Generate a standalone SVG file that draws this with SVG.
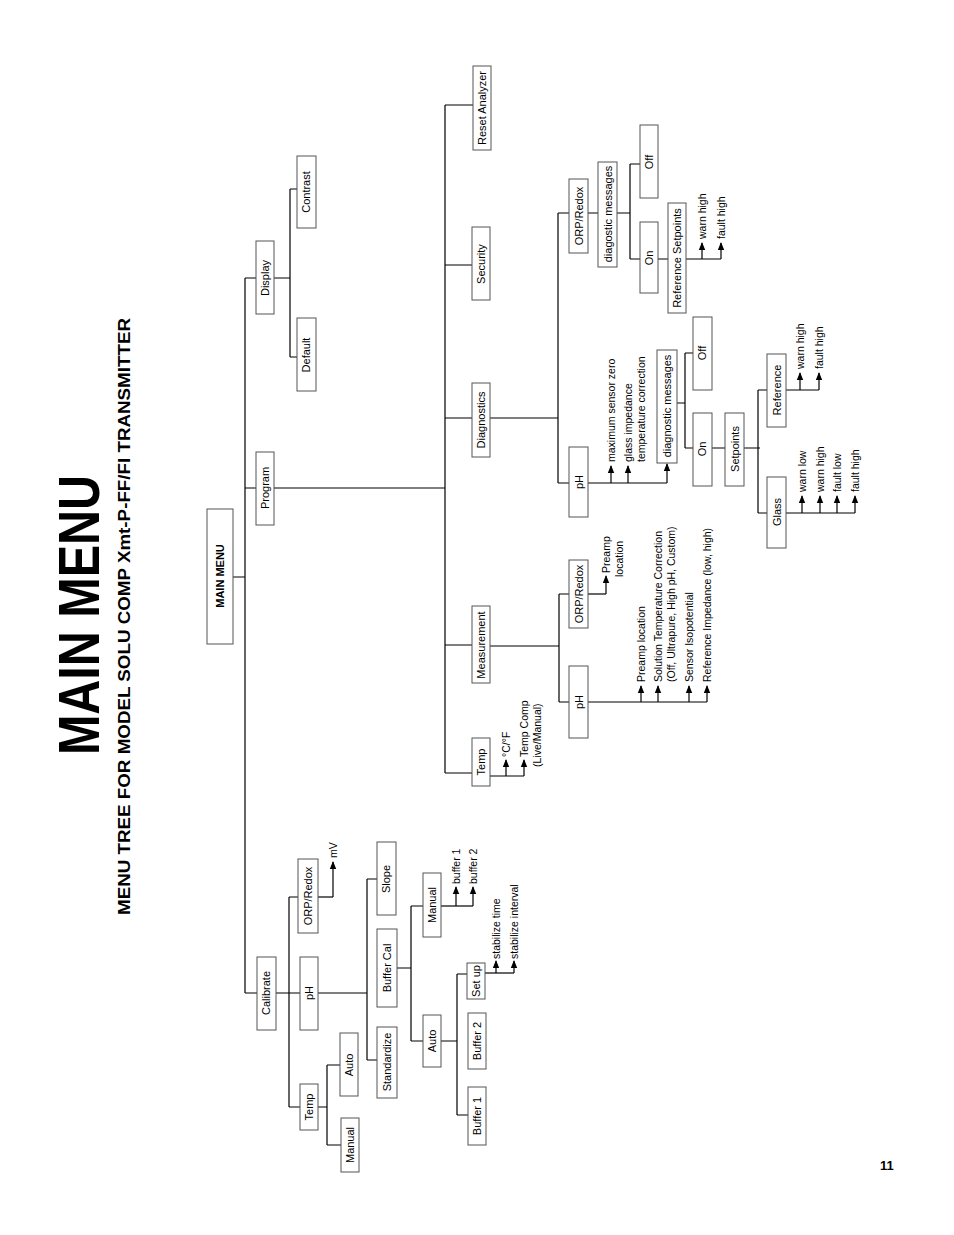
<svg xmlns="http://www.w3.org/2000/svg" width="954" height="1235" viewBox="0 0 954 1235">
<defs>
<style>
rect{fill:#fff;stroke:#555;stroke-width:1}
.b text,text.l{font-family:"Liberation Sans",Arial,sans-serif;font-size:11px;text-anchor:middle;fill:#000}
text.a{font-family:"Liberation Sans",Arial,sans-serif;font-size:10.5px;fill:#000}
#conn path{fill:none;stroke:#000;stroke-width:1.2}
#conn path.ar{marker-end:url(#ah)}
</style>
<marker id="ah" viewBox="0 0 8 8" refX="7" refY="4" markerWidth="8" markerHeight="8" markerUnits="userSpaceOnUse" orient="auto"><path d="M0,0.8 L8,4 L0,7.2 Z" fill="#000"/></marker>
</defs>
<rect x="0" y="0" width="954" height="1235" style="fill:#fff;stroke:none"/>
<text transform="translate(99,755) rotate(-90)" font-family="Liberation Sans,Arial,sans-serif" font-weight="bold" font-size="58" textLength="280" lengthAdjust="spacingAndGlyphs">MAIN MENU</text>
<text transform="translate(130,915) rotate(-90)" font-family="Liberation Sans,Arial,sans-serif" font-weight="bold" font-size="16.5" textLength="597" lengthAdjust="spacingAndGlyphs">MENU TREE FOR MODEL SOLU COMP Xmt-P-FF/FI TRANSMITTER</text>
<text x="880" y="1170" font-family="Liberation Sans,Arial,sans-serif" font-weight="bold" font-size="13">11</text>

<g id="conn">
<path d="M233,577H245M245,278V993M245,278H256M245,488H445M445,105V773M445,105H473M445,265H472M445,418H472M445,645H472M445,773H472"/>
<path d="M274,278H290M290,189V357M290,189H297M290,357H297"/>
<path d="M245,993H300M276,993H289M289,897V1107M289,897H298M289,1107H300"/>
<path d="M318,897H333"/><path class="ar" d="M333,897V862"/>
<path d="M318,993H367M367,879V1060M367,879H377M367,1060H377M397,968H411M411,906V1041M411,906H423M411,1041H423"/>
<path d="M441,906H473"/><path class="ar" d="M456,906V887"/><path class="ar" d="M473,906V887"/>
<path d="M441,1041H457M457,974V1115M457,974H467M457,1115H468"/>
<path d="M485,973H514"/><path class="ar" d="M496,973V961"/><path class="ar" d="M514,973V961"/>
<path d="M318,1107H327M327,1065V1145M327,1065H340M327,1145H341"/>
<path d="M490,776H524"/><path class="ar" d="M506,776V760"/><path class="ar" d="M524,776V760"/>
<path d="M490,646H559M559,594V702M559,594H569M559,702H569"/>
<path d="M588,594H606"/><path class="ar" d="M606,594V576"/>
<path d="M588,702H707"/><path class="ar" d="M641,702V686"/><path class="ar" d="M658,702V686"/><path class="ar" d="M689,702V686"/><path class="ar" d="M707,702V686"/>
<path d="M490,418H558M558,213V483M558,213H569M558,483H569"/>
<path d="M588,213H598M617,213H630M630,164V259M630,164H640M630,259H640M658,259H668M686,259H721"/>
<path class="ar" d="M702,259V243"/><path class="ar" d="M721,259V243"/>
<path d="M588,483H667"/><path class="ar" d="M611,483V466"/><path class="ar" d="M628,483V466"/><path class="ar" d="M667,483V464"/>
<path d="M677,403H685M685,353V448M685,353H693M685,448H693M712,448H725M744,448H760M758,390V513M758,390H767M758,513H767"/>
<path d="M786,390H819"/><path class="ar" d="M800,390V373"/><path class="ar" d="M819,390V373"/>
<path d="M786,513H855"/><path class="ar" d="M802,513V496"/><path class="ar" d="M820,513V496"/><path class="ar" d="M837,513V496"/><path class="ar" d="M855,513V496"/>
</g>

<g id="main-menu" class="b"><rect x="207" y="509" width="26" height="135"/><text transform="translate(224,576) rotate(-90)" font-weight="bold" font-size="11">MAIN MENU</text></g>
<g id="program" class="b"><rect x="256" y="452" width="18" height="73"/><text transform="translate(269,488) rotate(-90)">Program</text></g>
<g id="display" class="b"><rect x="256" y="241" width="18" height="73"/><text transform="translate(269,278) rotate(-90)">Display</text></g>
<g id="contrast" class="b"><rect x="297" y="156" width="19" height="72"/><text transform="translate(310,192) rotate(-90)">Contrast</text></g>
<g id="default" class="b"><rect x="297" y="318" width="19" height="73"/><text transform="translate(310,355) rotate(-90)">Default</text></g>
<g id="reset" class="b"><rect x="473" y="66" width="18" height="84"/><text transform="translate(486,108) rotate(-90)">Reset Analyzer</text></g>
<g id="security" class="b"><rect x="472" y="227" width="18" height="73"/><text transform="translate(485,264) rotate(-90)">Security</text></g>
<g id="diagnostics" class="b"><rect x="472" y="383" width="18" height="74"/><text transform="translate(485,420) rotate(-90)">Diagnostics</text></g>
<g id="measurement" class="b"><rect x="472" y="606" width="18" height="77"/><text transform="translate(485,645) rotate(-90)">Measurement</text></g>
<g id="temp-p" class="b"><rect x="472" y="738" width="18" height="48"/><text transform="translate(485,762) rotate(-90)">Temp</text></g>

<g id="calibrate" class="b"><rect x="257" y="957" width="19" height="73"/><text transform="translate(270,993) rotate(-90)">Calibrate</text></g>
<g id="cal-orp" class="b"><rect x="298" y="859" width="20" height="74"/><text transform="translate(312,896) rotate(-90)">ORP/Redox</text></g>
<g id="cal-ph" class="b"><rect x="300" y="957" width="18" height="73"/><text transform="translate(313,993) rotate(-90)">pH</text></g>
<g id="cal-temp" class="b"><rect x="300" y="1084" width="18" height="46"/><text transform="translate(313,1107) rotate(-90)">Temp</text></g>
<g id="cal-auto" class="b"><rect x="340" y="1033" width="18" height="63"/><text transform="translate(353,1065) rotate(-90)">Auto</text></g>
<g id="cal-manual" class="b"><rect x="341" y="1118" width="18" height="54"/><text transform="translate(354,1145) rotate(-90)">Manual</text></g>
<g id="slope" class="b"><rect x="377" y="842" width="19" height="73"/><text transform="translate(390,879) rotate(-90)">Slope</text></g>
<g id="buffer-cal" class="b"><rect x="377" y="929" width="20" height="78"/><text transform="translate(391,968) rotate(-90)">Buffer Cal</text></g>
<g id="standardize" class="b"><rect x="377" y="1027" width="20" height="71"/><text transform="translate(391,1062) rotate(-90)">Standardize</text></g>
<g id="bc-manual" class="b"><rect x="423" y="873" width="18" height="64"/><text transform="translate(436,905) rotate(-90)">Manual</text></g>
<g id="bc-auto" class="b"><rect x="423" y="1015" width="18" height="52"/><text transform="translate(436,1041) rotate(-90)">Auto</text></g>
<g id="setup" class="b"><rect x="467" y="963" width="18" height="36"/><text transform="translate(480,981) rotate(-90)" font-size="10.5">Set up</text></g>
<g id="buffer2" class="b"><rect x="468" y="1013" width="18" height="56"/><text transform="translate(481,1041) rotate(-90)">Buffer 2</text></g>
<g id="buffer1" class="b"><rect x="468" y="1087" width="18" height="58"/><text transform="translate(481,1116) rotate(-90)">Buffer 1</text></g>

<g id="meas-orp" class="b"><rect x="569" y="560" width="19" height="68"/><text transform="translate(583,594) rotate(-90)">ORP/Redox</text></g>
<g id="meas-ph" class="b"><rect x="569" y="666" width="19" height="72"/><text transform="translate(583,702) rotate(-90)">pH</text></g>
<g id="diag-orp" class="b"><rect x="569" y="179" width="19" height="74"/><text transform="translate(583,216) rotate(-90)">ORP/Redox</text></g>
<g id="diag-ph" class="b"><rect x="569" y="447" width="19" height="70"/><text transform="translate(583,482) rotate(-90)">pH</text></g>
<g id="orp-diagmsg" class="b"><rect x="598" y="162" width="19" height="105"/><text transform="translate(612,214) rotate(-90)">diagostic messages</text></g>
<g id="orp-off" class="b"><rect x="640" y="125" width="18" height="73"/><text transform="translate(653,162) rotate(-90)">Off</text></g>
<g id="orp-on" class="b"><rect x="640" y="222" width="18" height="71"/><text transform="translate(653,258) rotate(-90)">On</text></g>
<g id="ref-setpoints" class="b"><rect x="668" y="203" width="18" height="110"/><text transform="translate(681,258) rotate(-90)">Reference Setpoints</text></g>
<g id="ph-diagmsg" class="b"><rect x="657" y="350" width="20" height="113"/><text transform="translate(671,406) rotate(-90)">diagnostic messages</text></g>
<g id="ph-off" class="b"><rect x="693" y="317" width="19" height="73"/><text transform="translate(706,353) rotate(-90)">Off</text></g>
<g id="ph-on" class="b"><rect x="693" y="413" width="19" height="73"/><text transform="translate(706,449) rotate(-90)">On</text></g>
<g id="setpoints" class="b"><rect x="725" y="413" width="19" height="73"/><text transform="translate(739,449) rotate(-90)">Setpoints</text></g>
<g id="reference" class="b"><rect x="767" y="354" width="19" height="73"/><text transform="translate(781,390) rotate(-90)">Reference</text></g>
<g id="glass" class="b"><rect x="767" y="477" width="19" height="71"/><text transform="translate(781,512) rotate(-90)">Glass</text></g>

<g id="labels">
<text class="a" transform="translate(337,858) rotate(-90)">mV</text>
<text class="a" transform="translate(460,884) rotate(-90)">buffer 1</text>
<text class="a" transform="translate(477,884) rotate(-90)">buffer 2</text>
<text class="a" transform="translate(500,959) rotate(-90)">stabilize time</text>
<text class="a" transform="translate(518,959) rotate(-90)">stabilize interval</text>
<text class="a" transform="translate(510,757) rotate(-90)">°C/°F</text>
<text class="a" transform="translate(528,757) rotate(-90)">Temp Comp</text>
<text class="a" transform="translate(541,767) rotate(-90)">(Live/Manual)</text>
<text class="a" transform="translate(610,573) rotate(-90)">Preamp</text>
<text class="a" transform="translate(623,577) rotate(-90)">location</text>
<text class="a" transform="translate(645,682) rotate(-90)">Preamp location</text>
<text class="a" transform="translate(662,682) rotate(-90)">Solution Temperature Correction</text>
<text class="a" transform="translate(675,682) rotate(-90)">(Off, Ultrapure, High pH, Custom)</text>
<text class="a" transform="translate(693,682) rotate(-90)">Sensor Isopotential</text>
<text class="a" transform="translate(711,682) rotate(-90)">Reference Impedance (low, high)</text>
<text class="a" transform="translate(615,462) rotate(-90)">maximum sensor zero</text>
<text class="a" transform="translate(632,462) rotate(-90)">glass impedance</text>
<text class="a" transform="translate(645,462) rotate(-90)">temperature correction</text>
<text class="a" transform="translate(706,239) rotate(-90)">warn high</text>
<text class="a" transform="translate(725,239) rotate(-90)">fault high</text>
<text class="a" transform="translate(804,369) rotate(-90)">warn high</text>
<text class="a" transform="translate(823,369) rotate(-90)">fault high</text>
<text class="a" transform="translate(806,492) rotate(-90)">warn low</text>
<text class="a" transform="translate(824,492) rotate(-90)">warn high</text>
<text class="a" transform="translate(841,492) rotate(-90)">fault low</text>
<text class="a" transform="translate(859,492) rotate(-90)">fault high</text>
</g>
</svg>
